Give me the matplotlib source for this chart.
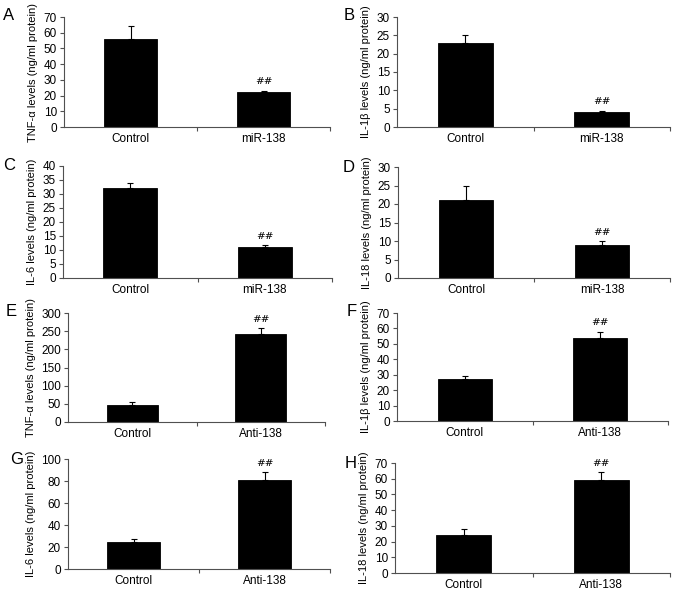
import matplotlib
matplotlib.use("Agg")
import matplotlib.pyplot as plt

plt.rcParams['font.family'] = ['Liberation Sans', 'DejaVu Sans']

# Data
panel_letters = ["A", "B", "C", "D", "E", "F", "G", "H"]
ylabels = ["TNF-α levels (ng/ml protein)", "IL-1β levels (ng/ml protein)",
           "IL-6 levels (ng/ml protein)", "IL-18 levels (ng/ml protein)",
           "TNF-α levels (ng/ml protein)", "IL-1β levels (ng/ml protein)",
           "IL-6 levels (ng/ml protein)", "IL-18 levels (ng/ml protein)"]
categories_top = ["Control", "miR-138"]
categories_bottom = ["Control", "Anti-138"]
means = [[56, 22], [23, 4], [32, 11], [21, 9],
         [47, 243], [27, 54], [25, 81], [24, 59]]
errors = [[8, 1], [2, 0.4], [2, 0.7], [4, 0.9],
          [7, 15], [2, 4], [2, 7], [4, 5]]
ymax = [70, 30, 40, 30, 300, 70, 100, 70]
ystep = [10, 5, 5, 5, 50, 10, 20, 10]

W, H = 677, 590
# axes boxes in pixels: left, right, top, bottom
pix = [
    (64, 330, 17, 127),
    (397, 670, 17, 127),
    (63, 332, 166, 278),
    (398, 670, 167, 278),
    (68, 325, 313, 422),
    (397, 668, 313, 421),
    (68, 330, 459, 569),
    (395, 670, 463, 573),
]

fig = plt.figure(figsize=(W / 100, H / 100), dpi=100)
axcol = '#505050'
for i in range(8):
    l, r, t, b = pix[i]
    ax = fig.add_axes((l / W, 1 - b / H, (r - l) / W, (b - t) / H))
    cats = categories_top if i < 4 else categories_bottom
    x = [0, 1]
    ax.bar(x, means[i], width=0.4, color='black', edgecolor='black', linewidth=0.6, zorder=2)
    ax.errorbar(x, means[i], yerr=[[0, 0], errors[i]], fmt='none', ecolor='black',
                elinewidth=0.8, capsize=2, capthick=0.8, zorder=1)
    top = means[i][1] + errors[i][1]
    ax.text(1, top + ymax[i] * 0.04, "##", ha='center', va='bottom',
            fontsize=7.5, family='DejaVu Serif')
    ax.set_xlim(-0.5, 1.5)
    ax.set_ylim(0, ymax[i])
    ax.set_yticks(list(range(0, ymax[i] + 1, ystep[i])))
    ax.set_xticks([0.5, 1.5])
    ax.set_xticklabels([])
    ax.set_xticks(x, minor=True)
    ax.set_xticklabels(cats, minor=True)
    ax.tick_params(axis='x', which='major', direction='out', length=3, color=axcol, width=0.8)
    ax.tick_params(axis='x', which='minor', length=0, labelsize=8.5, pad=4)
    ax.tick_params(axis='y', direction='out', length=3, color=axcol, width=0.8,
                   labelsize=8.5, pad=2)
    ax.spines['top'].set_visible(False)
    ax.spines['right'].set_visible(False)
    for s in ('left', 'bottom'):
        ax.spines[s].set_color(axcol)
        ax.spines[s].set_linewidth(0.8)
    ax.set_ylabel(ylabels[i], fontsize=8, labelpad=4)

letter_pos = [(9, 15), (349, 15), (9, 166), (349, 167),
              (11, 312), (352, 312), (17, 460), (351, 464)]
for (px, py), L in zip(letter_pos, panel_letters):
    fig.text(px / W, 1 - py / H, L, fontsize=12, ha='center', va='center')

fig.savefig("out.png", dpi=100)
